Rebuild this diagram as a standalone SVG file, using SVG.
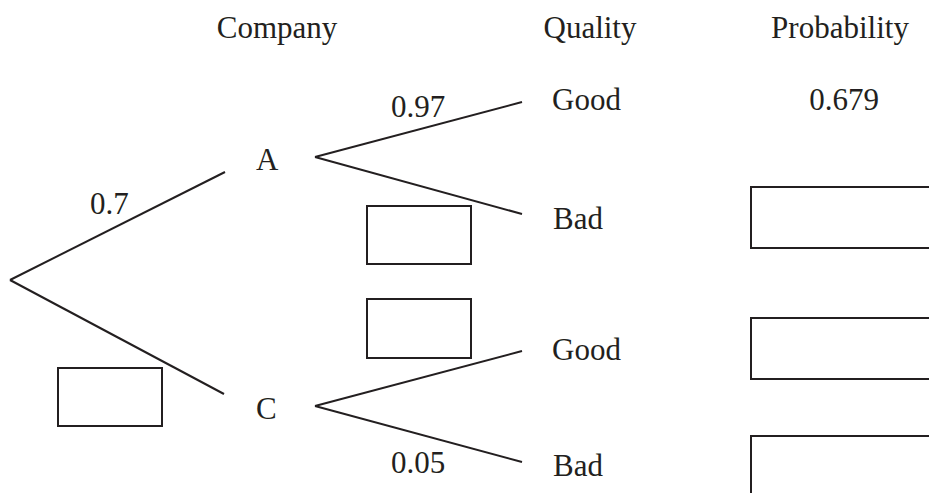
<svg xmlns="http://www.w3.org/2000/svg" width="929" height="493" viewBox="0 0 929 493">
<style>
text{font-family:"Liberation Serif","Times New Roman",serif;font-size:31px;fill:#231f20}
.m{text-anchor:middle}
line{stroke:#231f20;stroke-width:2;fill:none}
rect{stroke:#231f20;stroke-width:2;fill:#fff}
</style>
<rect x="0" y="0" width="929" height="493" style="stroke:none;fill:#fff"/>
<g id="headers">
<text class="m" x="277" y="38">Company</text>
<text class="m" x="590" y="38">Quality</text>
<text class="m" x="840" y="38">Probability</text>
</g>
<g id="connectors">
<line x1="10" y1="280" x2="225" y2="172"/>
<line x1="10" y1="280" x2="224" y2="394"/>
<line x1="315" y1="157" x2="522" y2="102"/>
<line x1="315" y1="157" x2="522" y2="214"/>
<line x1="315" y1="406" x2="522" y2="351"/>
<line x1="315" y1="406" x2="522" y2="462"/>
</g>
<g id="labels">
<text x="90" y="214">0.7</text>
<text x="391" y="117">0.97</text>
<text x="391" y="473">0.05</text>
</g>
<g id="nodeA"><text x="256" y="170">A</text></g>
<g id="nodeC"><text x="256" y="419">C</text></g>
<g id="goodA"><text x="552" y="110">Good</text></g>
<g id="badA"><text x="553" y="229">Bad</text></g>
<g id="goodC"><text x="552" y="360">Good</text></g>
<g id="badC"><text x="553" y="476">Bad</text></g>
<g id="prob1"><text class="m" x="844" y="110">0.679</text></g>
<g id="boxes">
<rect x="58" y="368" width="104" height="58"/>
<rect x="367" y="206" width="104" height="58"/>
<rect x="367" y="299" width="104" height="59"/>
<rect x="751" y="187" width="200" height="61"/>
<rect x="751" y="318" width="200" height="61"/>
<rect x="751" y="436" width="200" height="80"/>
</g>
</svg>
